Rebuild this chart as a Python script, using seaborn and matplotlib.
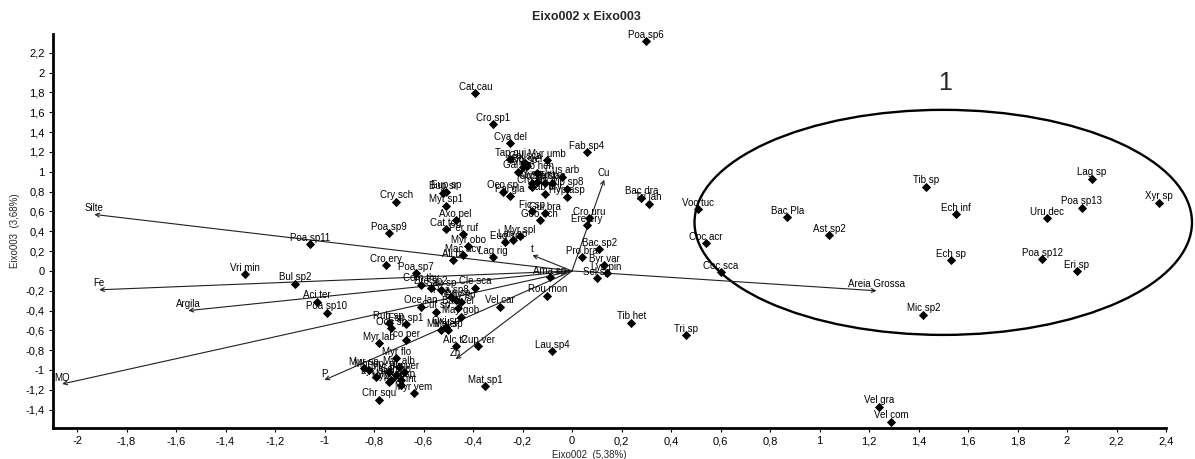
import numpy as np
import pandas as pd
import matplotlib
matplotlib.use("Agg")
import matplotlib.pyplot as plt
from matplotlib.patches import Ellipse
from matplotlib.ticker import MultipleLocator, FuncFormatter
import seaborn as sns

# species scores (Eixo002, Eixo003)
species = ["Poa sp6", "Cat cau", "Cro sp1", "Cya del", "Fab sp4", "Tap gui", "Myr umb", "Cal sca",
           "Bor ver", "Hyp sp", "Gal sp", "Pro hen", "Cus arb", "Myr tum", "Ori sp", "Cro lan",
           "Ste sp", "Tri lan", "Pip sp8", "Hyp asp", "Oco sp", "Pal gla", "Cab dry", "Bac dra",
           "Tri lah", "Voc tuc", "Bac Pla", "Bup sr", "Eup sp", "Myt sp1", "Fic sp", "Geo ech",
           "Gui bra", "Cro uru", "Ere ery", "Cry sch", "Tib sp", "Ech inf", "Lag sp", "Xyr sp",
           "Poa sp13", "Uru dec", "Ast sp2", "Poa sp11", "Cro ery", "Poa sp9", "Vri min", "Bul sp2",
           "Aci ter", "Poa sp10", "Axo pel", "Cat tog", "Per ruf", "Myr obo", "Eug sp", "Lan sp",
           "Myr spl", "Ali br", "Mac acv", "Lag rig", "Poa sp7", "Com thy", "Bre sp2", "Sau sp",
           "Cle sca", "Poa sp8", "Myr sp", "Rhy sp", "Oce lan", "Cuf sp", "Bac vel", "May gob",
           "Rub sp", "Oce sp", "Esp sp1", "Myr lab", "co per", "Mil ste", "Mel sp", "Oxi sp",
           "Vel car", "Rou mon", "Ama sp", "Bac sp2", "Pro bra", "Byr var", "Lyc pin", "Sel sp",
           "Tib het", "Tri sp", "Lau sp4", "Mat sp1", "Alc t2", "Cup ver", "Myr vem", "Coc acr",
           "Coc sca", "Ech sp", "Poa sp12", "Eri sp", "Mic sp2", "Vel gra", "Vel com", "Myr flo",
           "Myr alb", "Mur sp", "Mor sp", "Lyc ser", "Hyp ver", "Myr sel", "Pol sp", "Ger int",
           "Myr pun", "Pip ver", "Chr squ", "Sch sp"]
eixo2 = [0.30, -0.39, -0.32, -0.25, 0.06, -0.25, -0.10, -0.19,
         -0.18, -0.20, -0.22, -0.14, -0.04, -0.14, -0.16, -0.16,
         -0.11, -0.08, -0.02, -0.02, -0.28, -0.25, -0.11, 0.28,
         0.31, 0.51, 0.87, -0.52, -0.51, -0.51, -0.16, -0.13,
         -0.11, 0.07, 0.06, -0.71, 1.43, 1.55, 2.10, 2.37,
         2.06, 1.92, 1.04, -1.06, -0.75, -0.74, -1.32, -1.12,
         -1.03, -0.99, -0.47, -0.51, -0.44, -0.42, -0.27, -0.24,
         -0.21, -0.48, -0.44, -0.32, -0.63, -0.61, -0.57, -0.53,
         -0.39, -0.49, -0.47, -0.45, -0.61, -0.55, -0.46, -0.45,
         -0.74, -0.73, -0.67, -0.78, -0.67, -0.53, -0.50, -0.51,
         -0.29, -0.10, -0.09, 0.11, 0.04, 0.13, 0.14, 0.10,
         0.24, 0.46, -0.08, -0.35, -0.47, -0.38, -0.64, 0.54,
         0.60, 1.53, 1.90, 2.04, 1.42, 1.24, 1.29, -0.71,
         -0.70, -0.84, -0.82, -0.79, -0.74, -0.73, -0.69, -0.69,
         -0.74, -0.68, -0.78, -0.71]
eixo3 = [2.32, 1.79, 1.48, 1.29, 1.20, 1.13, 1.12, 1.09,
         1.06, 1.05, 1.00, 0.99, 0.95, 0.90, 0.89, 0.85,
         0.89, 0.89, 0.83, 0.75, 0.80, 0.76, 0.78, 0.74,
         0.68, 0.62, 0.54, 0.79, 0.80, 0.66, 0.60, 0.51,
         0.58, 0.53, 0.46, 0.70, 0.85, 0.57, 0.93, 0.69,
         0.64, 0.53, 0.36, 0.27, 0.06, 0.38, -0.03, -0.13,
         -0.31, -0.42, 0.51, 0.42, 0.37, 0.25, 0.29, 0.31,
         0.35, 0.11, 0.16, 0.14, -0.02, -0.14, -0.17, -0.19,
         -0.17, -0.26, -0.29, -0.31, -0.36, -0.41, -0.37, -0.46,
         -0.52, -0.58, -0.54, -0.73, -0.70, -0.60, -0.60, -0.57,
         -0.36, -0.25, -0.06, 0.22, 0.14, 0.06, -0.02, -0.07,
         -0.52, -0.65, -0.81, -1.16, -0.76, -0.76, -1.23, 0.28,
         -0.01, 0.11, 0.12, 0.00, -0.44, -1.37, -1.52, -0.88,
         -0.97, -0.98, -1.00, -1.07, -1.12, -1.10, -1.10, -1.15,
         -1.02, -1.02, -1.30, -1.05]

# environmental vectors (arrow tips)
variables = ["Silte", "Fe", "Argila", "MO", "P", "Zn", "Cu", "t", "Areia Grossa"]
var_x = [-1.93, -1.91, -1.55, -2.06, -1.00, -0.47, 0.13, -0.16, 1.23]
var_y = [0.57, -0.19, -0.40, -1.14, -1.10, -0.89, 0.92, 0.16, -0.20]

df = pd.DataFrame({"sp": species, "x": eixo2, "y": eixo3})

sns.set_style("ticks")
plt.rcParams['font.family'] = ['Liberation Sans', 'DejaVu Sans']

fig = plt.figure(figsize=(11.95, 4.59), dpi=100)
ax = fig.add_axes([53 / 1195, 31 / 459, 1113 / 1195, 394 / 459])

# arrows from the origin
for name, vx, vy in zip(variables, var_x, var_y):
    ax.annotate("", xy=(vx, vy), xytext=(0, 0),
                arrowprops=dict(arrowstyle="->", color="#202020", lw=0.8,
                                mutation_scale=7, shrinkA=0, shrinkB=0))
    ax.annotate(name, xy=(vx, vy), xytext=(0, 1), textcoords="offset points",
                ha="center", va="bottom", fontsize=7, color="black")

sns.scatterplot(data=df, x="x", y="y", marker="D", color="black", s=22,
                linewidth=0, ax=ax, legend=False, zorder=3)
for _, r in df.iterrows():
    ax.annotate(r["sp"], xy=(r["x"], r["y"]), xytext=(0, 1), textcoords="offset points",
                ha="center", va="bottom", fontsize=7, color="black")

# group 1 ellipse
ax.add_patch(Ellipse((1.50, 0.49), width=2.01, height=2.27, fill=False,
                     edgecolor="black", lw=1.7, clip_on=False))
ax.text(1.507, 1.90, "1", ha="center", va="center", fontsize=18)

ax.set_xlim(-2.097, 2.4)
ax.set_ylim(-1.584, 2.39)
ax.xaxis.set_major_locator(MultipleLocator(0.2))
ax.yaxis.set_major_locator(MultipleLocator(0.2))
fmt = FuncFormatter(lambda v, p: ("%g" % round(v, 1)).replace(".", ",") if abs(v) > 1e-9 else "0")
ax.xaxis.set_major_formatter(fmt)
ax.yaxis.set_major_formatter(fmt)
ax.tick_params(axis="both", direction="out", length=3, width=0.8, labelsize=8, colors="black", pad=3)

sns.despine(ax=ax)
ax.spines["left"].set_linewidth(2)
ax.spines["bottom"].set_linewidth(2)
ax.spines["left"].set_color("black")
ax.spines["bottom"].set_color("black")

ax.set_xlabel("Eixo002  (5,38%)", fontsize=7)
ax.xaxis.set_label_coords(0.482, -0.056)
ax.set_ylabel("Eixo003  (3,68%)", fontsize=7)
ax.yaxis.set_label_coords(-0.030, 0.5)

fig.text(0.491, 0.963, "Eixo002 x Eixo003", ha="center", va="center",
         fontsize=9, fontweight="bold")

fig.savefig("out.png", dpi=100)
